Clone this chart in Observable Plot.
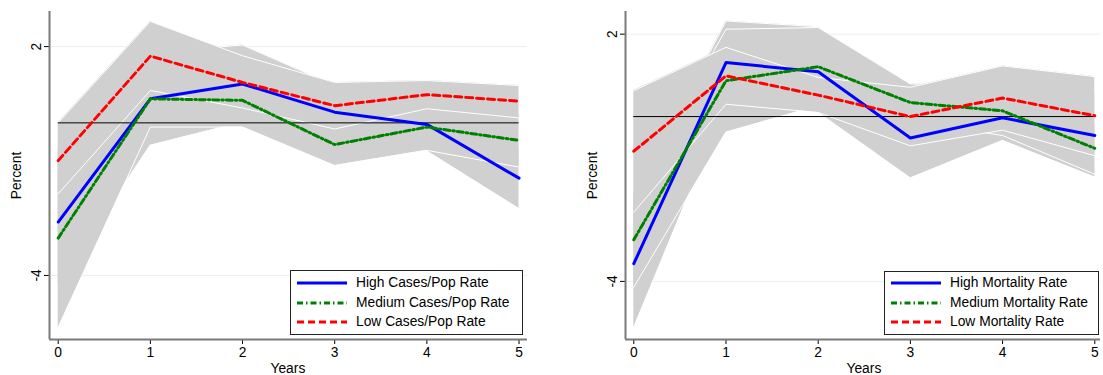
<!DOCTYPE html>
<html>
<head>
<meta charset="utf-8">
<script src="https://cdn.jsdelivr.net/npm/d3@7"></script>
<script src="https://cdn.jsdelivr.net/npm/@observablehq/plot@0.6"></script>
<style>
  html, body { margin: 0; padding: 0; background: #fff; }
  body { font-family: "Liberation Sans", Arial, sans-serif; }
  #wrap { position: relative; width: 1103px; height: 375px; overflow: hidden; }
  #wrap svg.plot { position: absolute; top: 0; }
  .ttl { position: absolute; font-size: 13.8px; color: #000; white-space: nowrap; }
  .legend { position: absolute; border: 1px solid #222; background: #fff; box-sizing: border-box; }
  .legend .row { position: absolute; left: 0; height: 18px; font-size: 13.8px; line-height: 18px; white-space: nowrap; }
  .legend svg { position: absolute; left: 5px; top: 0; }
  .legend span { position: absolute; }
</style>
</head>
<body>
<div id="wrap"></div>
<script>
// ---------- data ----------
const years = [0, 1, 2, 3, 4, 5];
const yTicks = [2, -4];

// Left panel: Cases/Pop rate
const casesHigh   = [-2.60, 0.63, 1.02, 0.28, -0.04, -1.45];
const casesHighLo = [-4.20, -0.59, 0.02, -0.42, -0.74, -2.25];
const casesHighHi = [-1.00, 1.85, 2.04, 0.98, 0.66, -0.65];
const casesMed    = [-3.02, 0.63, 0.59, -0.57, -0.11, -0.46];
const casesMedLo  = [-5.37, -0.11, -0.11, -1.12, -0.72, -1.16];
const casesMedHi  = [-0.67, 1.37, 1.29, -0.02, 0.50, 0.24];
const casesLow    = [-0.99, 1.75, 1.06, 0.45, 0.74, 0.57];
const casesLowLo  = [-1.86, 0.85, 0.39, -0.16, 0.37, 0.13];
const casesLowHi  = [0.00, 2.66, 1.76, 1.06, 1.11, 0.98];

// Right panel: Mortality rate
const mortHigh   = [-3.57, 1.31, 1.09, -0.52, -0.03, -0.46];
const mortHighLo = [-5.12, 0.30, 0.10, -1.49, -0.58, -1.47];
const mortHighHi = [-2.02, 2.32, 2.18, 0.45, 0.52, 0.55];
const mortMed    = [-2.99, 0.87, 1.21, 0.34, 0.14, -0.77];
const mortMedLo  = [-4.14, -0.38, 0.26, -0.10, -0.46, -1.40];
const mortMedHi  = [-1.84, 2.12, 2.16, 0.79, 0.74, -0.14];
const mortLow    = [-0.84, 0.99, 0.52, 0.00, 0.45, 0.02];
const mortLowLo  = [-2.32, 0.30, 0.10, -0.71, -0.33, -0.95];
const mortLowHi  = [0.63, 1.68, 0.95, 0.71, 1.23, 0.97];

const casesLabels = ["High Cases/Pop Rate", "Medium Cases/Pop Rate", "Low Cases/Pop Rate"];
const mortLabels  = ["High Mortality Rate", "Medium Mortality Rate", "Low Mortality Rate"];

// ---------- styles ----------
const seriesStyle = [
  {stroke: "#0000ff", dash: null},
  {stroke: "#008000", dash: "6,3,1.5,3"},
  {stroke: "#ff0000", dash: "7,4"}
];
const bandFill = "#d0d0d0";
const fmt = d => String(d);

function makeRows(mid, lo, hi) {
  return years.map((x, i) => ({x, mid: mid[i], lo: lo[i], hi: hi[i]}));
}

function panel({series, xDomain, yDomain, width, marginLeft, marginRight}) {
  const marks = [];
  marks.push(Plot.ruleY(yTicks, {stroke: "#e8f0f2", strokeWidth: 1}));
  for (const s of series) {
    marks.push(Plot.areaY(s.rows, {x: "x", y1: "lo", y2: "hi", fill: bandFill, curve: "linear"}));
    marks.push(Plot.line(s.rows, {x: "x", y: "lo", stroke: "#fff", strokeWidth: 1}));
    marks.push(Plot.line(s.rows, {x: "x", y: "hi", stroke: "#fff", strokeWidth: 1}));
  }
  marks.push(Plot.ruleY([0], {x1: years[0], x2: years[years.length - 1], stroke: "#000", strokeWidth: 1}));
  series.forEach((s, i) => {
    marks.push(Plot.line(s.rows, {
      x: "x", y: "mid", stroke: seriesStyle[i].stroke, strokeWidth: 3,
      strokeDasharray: seriesStyle[i].dash
    }));
  });
  marks.push(Plot.axisX({ticks: years, tickFormat: fmt, tickSize: 5, tickPadding: 3, stroke: "#000", fill: "#000", fontSize: 13.8, label: null}));
  marks.push(Plot.axisY({ticks: yTicks, tickFormat: fmt, tickSize: 5, tickRotate: -90, stroke: "#000", fill: "#000", fontSize: 13.8, label: null}));
  marks.push(Plot.ruleX([xDomain[0]], {stroke: "#7a7a7a", strokeWidth: 2}));
  marks.push(Plot.ruleY([yDomain[0]], {stroke: "#7a7a7a", strokeWidth: 2}));

  const svg = Plot.plot({
    width, height: 375,
    marginLeft, marginRight, marginTop: 11, marginBottom: 36,
    style: {fontFamily: "'Liberation Sans', Arial, sans-serif", fontSize: "13.8px", color: "#000", background: "transparent"},
    x: {domain: xDomain, label: null},
    y: {domain: yDomain, label: null},
    marks
  });
  svg.classList.add("plot");
  return svg;
}

const wrap = document.getElementById("wrap");

const left = panel({
  series: [
    {rows: makeRows(casesHigh, casesHighLo, casesHighHi)},
    {rows: makeRows(casesMed, casesMedLo, casesMedHi)},
    {rows: makeRows(casesLow, casesLowLo, casesLowHi)}
  ],
  xDomain: [-0.0945, 5.092], yDomain: [-5.68, 2.92],
  width: 550, marginLeft: 49, marginRight: 23
});
left.style.left = "0px";
wrap.appendChild(left);

const right = panel({
  series: [
    {rows: makeRows(mortHigh, mortHighLo, mortHighHi)},
    {rows: makeRows(mortMed, mortMedLo, mortMedHi)},
    {rows: makeRows(mortLow, mortLowLo, mortLowHi)}
  ],
  xDomain: [-0.09, 5.062], yDomain: [-5.41, 2.55],
  width: 553, marginLeft: 75, marginRight: 3
});
right.style.left = "550px";
wrap.appendChild(right);

function addText(txt, cx, cy, rotate) {
  const d = document.createElement("div");
  d.className = "ttl";
  d.textContent = txt;
  wrap.appendChild(d);
  const w = d.offsetWidth, h = d.offsetHeight;
  d.style.left = (cx - w / 2) + "px";
  d.style.top = (cy - h / 2) + "px";
  if (rotate) d.style.transform = `rotate(${rotate}deg)`;
}
addText("Percent", 17, 175, -90);
addText("Percent", 593, 175, -90);
addText("Years", 288, 368, 0);
addText("Years", 864, 368, 0);

function legend(labels, box) {
  const lg = document.createElement("div");
  lg.className = "legend";
  lg.style.left = box.x + "px";
  lg.style.top = box.y + "px";
  lg.style.width = box.w + "px";
  lg.style.height = box.h + "px";
  labels.forEach((lab, i) => {
    const row = document.createElement("div");
    row.className = "row";
    row.style.top = (box.rows[i] - box.y - 10) + "px";
    row.style.width = box.w + "px";
    const st = seriesStyle[i];
    row.innerHTML = `<svg width="52" height="18"><line x1="1" x2="51" y1="9" y2="9" stroke="${st.stroke}" stroke-width="3" ${st.dash ? `stroke-dasharray="${st.dash}"` : ""}/></svg><span style="left:${box.textX}px">${lab}</span>`;
    lg.appendChild(row);
  });
  wrap.appendChild(lg);
}
legend(casesLabels, {x: 290, y: 270, w: 233, h: 65, rows: [283.3, 303.3, 322.3], textX: 65});
legend(mortLabels, {x: 884, y: 271, w: 215, h: 64, rows: [283.3, 303.3, 322.3], textX: 65});
</script>
</body>
</html>
